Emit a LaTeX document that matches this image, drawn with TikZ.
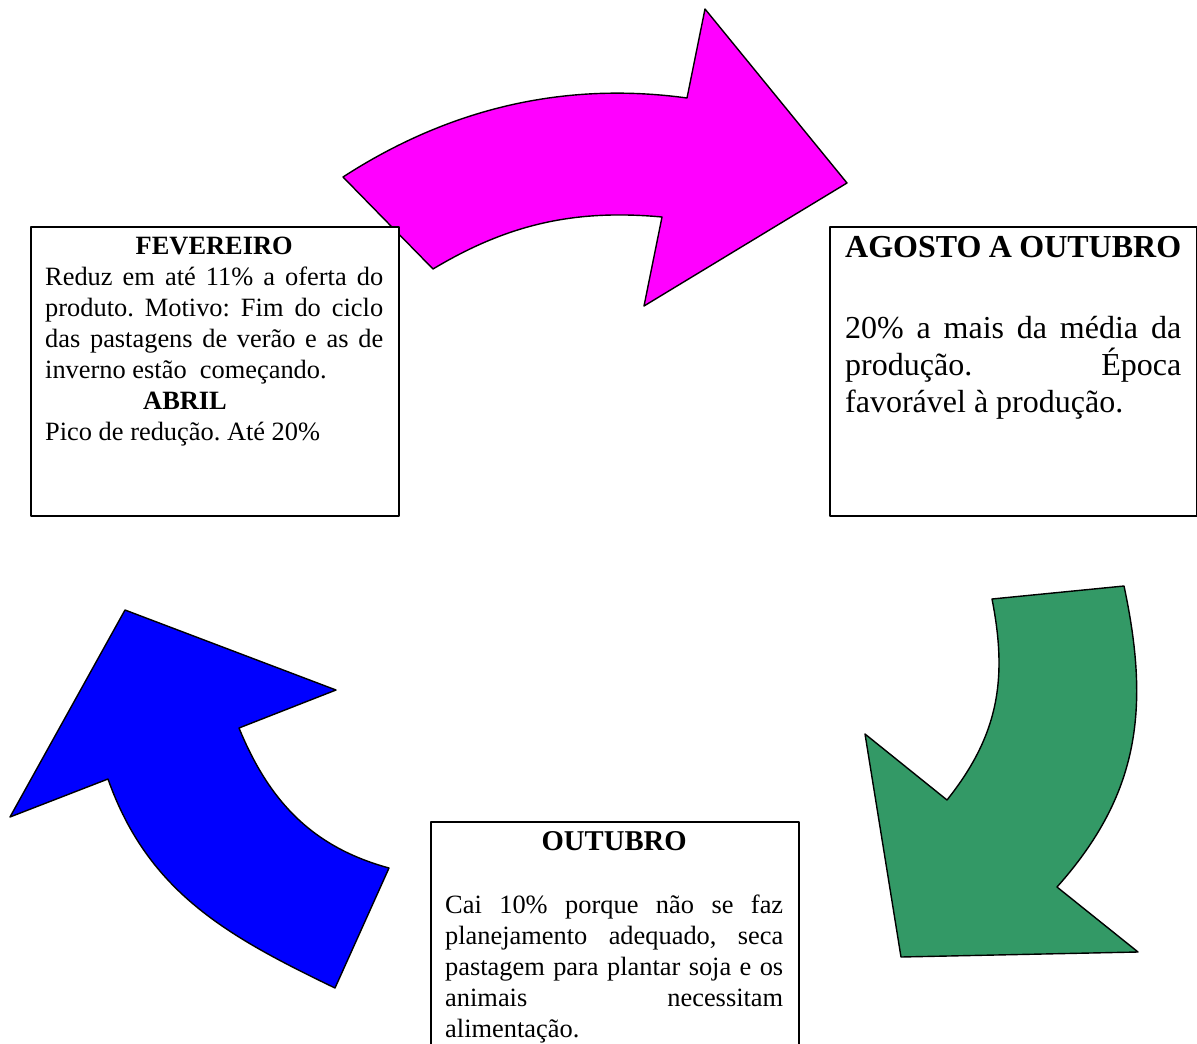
\documentclass[tikz,border=0pt]{standalone}
\usepackage{fontspec}
\setmainfont{Liberation Serif}
\definecolor{rosa}{RGB}{255,0,255}
\definecolor{azul}{RGB}{0,0,255}
\definecolor{verde}{RGB}{51,153,102}
\hbadness=10000
\frenchspacing
\begin{document}
\begin{tikzpicture}[x=1pt, y=-1pt, line join=round,
	seta/.style={draw=black, line width=1.4pt},
	caixa/.style={draw, fill=white, line width=1.8pt, anchor=north west, minimum width=368pt, inner sep=0pt},
	texto/.style={anchor=base west, inner sep=0pt, text width=338pt, align=justify, font=\fontsize{26.4}{31}\selectfont}]
	\clip (0,0) rectangle (1197,1044);
	% setas
	\draw[seta, fill=rosa] (343,177) .. controls (448,109) and (563,81) .. (687,98) -- (705,9) -- (847,183) -- (644,306) -- (662,217) .. controls (575,209) and (508,224) .. (433,269) -- cycle;
	\draw[seta, fill=verde] (1124,586) .. controls (1150,708) and (1140,794) .. (1057,887) -- (1138,952) -- (901,957) -- (865,734) -- (947,800) .. controls (998,736) and (1008,680) .. (992,599) -- cycle;
	\draw[seta, fill=azul] (335,988) .. controls (227,936) and (148,892) .. (108,779) -- (10,817) -- (125,610) -- (336,690) -- (239,728) .. controls (269,801) and (312,847) .. (389,868) -- cycle;
	% caixas
	\node[caixa, minimum height=289pt] (fev) at (30,226) {};
	\node[caixa, minimum width=367pt, minimum height=289pt] (ago) at (829,226) {};
	\node[caixa, minimum height=260pt] (out) at (430,821) {};
	\node[texto] (fevtxt) at (45,254) {\centerline{\bfseries FEVEREIRO}
		Reduz em até 11\% a oferta do\linebreak produto. Motivo: Fim do ciclo\linebreak das pastagens de verão e as de\linebreak inverno estão\ \ começando.\par
		\hspace*{98pt}\textbf{ABRIL}\par
		Pico de redução. Até 20\%};
	\node[texto, text width=336pt, font=\fontsize{32}{37}\selectfont] (agotxt) at (845,257) {\textbf{AGOSTO A OUTUBRO}\par\vspace{44pt}
		20\% a mais da média da\linebreak produção. Época\linebreak favorável à produção.};
	\node[texto] (outtxt) at (445,850) {{\fontsize{28.7}{31}\selectfont\centerline{\bfseries OUTUBRO}}\vspace{32pt}
		Cai 10\% porque não se faz\linebreak planejamento adequado, seca\linebreak pastagem para plantar soja e os\linebreak animais necessitam\linebreak alimentação.};
\end{tikzpicture}
\end{document}
